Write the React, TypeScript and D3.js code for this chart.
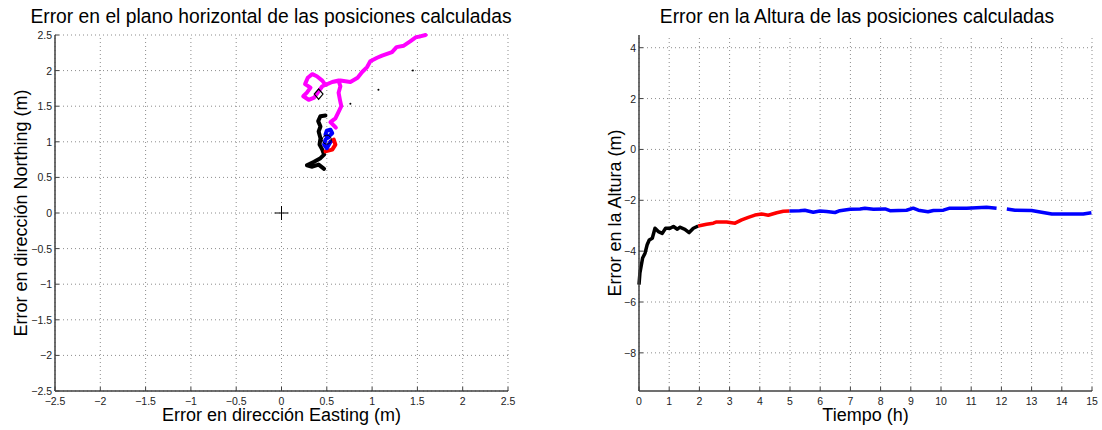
import React from "react";
import * as d3 from "d3";

// Horizontal position error (east, north) in metres, per segment
const blackEast = [0.47, 0.41, 0.34, 0.28, 0.36, 0.43, 0.47, 0.45, 0.42, 0.43, 0.41, 0.43, 0.405, 0.43, 0.485];
const blackNorth = [0.62, 0.68, 0.65, 0.67, 0.72, 0.77, 0.82, 0.89, 0.96, 1.05, 1.145, 1.215, 1.29, 1.36, 1.37];
const redEast = [0.485, 0.56, 0.595, 0.577, 0.54];
const redNorth = [0.865, 0.89, 0.96, 1.03, 1.0];
const blueEast = [0.54, 0.5, 0.47, 0.485, 0.52, 0.56, 0.54, 0.5, 0.485, 0.52];
const blueNorth = [1.0, 0.91, 0.96, 1.03, 1.075, 1.12, 1.17, 1.155, 1.1, 1.06];
const magentaEast = [0.6, 0.54, 0.595, 0.63, 0.66, 0.645, 0.63, 0.65, 0.63, 0.56, 0.485, 0.45, 0.39, 0.34, 0.29, 0.26, 0.32, 0.28, 0.24, 0.3, 0.36, 0.45, 0.56, 0.65, 0.76, 0.84, 0.89, 0.945, 0.98, 1.055, 1.11, 1.22, 1.27, 1.35, 1.42, 1.485, 1.53, 1.59];
const magentaNorth = [1.2, 1.277, 1.33, 1.42, 1.5, 1.59, 1.69, 1.78, 1.86, 1.84, 1.8, 1.86, 1.92, 1.95, 1.9, 1.81, 1.76, 1.69, 1.64, 1.59, 1.62, 1.78, 1.84, 1.86, 1.84, 1.9, 1.98, 2.05, 2.13, 2.18, 2.21, 2.26, 2.33, 2.35, 2.41, 2.47, 2.48, 2.5];
const strayEast = [1.45, 1.07, 0.76];
const strayNorth = [2.0, 1.73, 1.535];
const originMark = [0, 0];
const diamondMark = [0.41, 1.67];
const circleMark = [0.5, 1.03];

// Height error (m) over time (h), per segment
const hBlackT = [0, 0.03, 0.12, 0.2, 0.27, 0.34, 0.44, 0.53, 0.64, 0.77, 0.88, 1.03, 1.14, 1.27, 1.35, 1.52, 1.66, 1.8, 1.96];
const hBlackV = [-5.32, -4.86, -4.27, -4.08, -3.75, -3.56, -3.49, -3.1, -3.23, -3.3, -3.1, -3.1, -3.03, -3.14, -3.06, -3.14, -3.27, -3.1, -3.01];
const hRedT = [1.96, 2.24, 2.46, 2.57, 2.9, 3.18, 3.4, 3.62, 3.84, 4.06, 4.28, 4.56, 4.78, 4.98];
const hRedV = [-3.01, -2.94, -2.9, -2.85, -2.85, -2.9, -2.77, -2.67, -2.58, -2.54, -2.59, -2.49, -2.43, -2.42];
const hBlueT1 = [4.98, 5.32, 5.49, 5.77, 5.99, 6.21, 6.49, 6.65, 6.99, 7.32, 7.48, 7.76, 8.15, 8.31, 8.86, 9.08, 9.25, 9.57, 9.75, 10.08, 10.29, 10.85, 11.51, 11.84];
const hBlueV1 = [-2.42, -2.41, -2.39, -2.47, -2.42, -2.44, -2.48, -2.41, -2.35, -2.34, -2.31, -2.35, -2.34, -2.41, -2.39, -2.31, -2.39, -2.45, -2.4, -2.39, -2.31, -2.31, -2.27, -2.31];
const hBlueT2 = [12.18, 12.45, 13.0, 13.33, 13.67, 14.11, 14.71, 14.98];
const hBlueV2 = [-2.34, -2.39, -2.4, -2.47, -2.54, -2.54, -2.54, -2.49];

const enTicks = [-2.5, -2, -1.5, -1, -0.5, 0, 0.5, 1, 1.5, 2, 2.5];
const timeTicks = d3.range(0, 16);
const heightTicks = [-8, -6, -4, -2, 0, 2, 4];

const FONT = "'Liberation Sans', Arial, Helvetica, sans-serif";
const fmt = d3.format("~g");

const zip = (a: number[], b: number[]) => a.map((v, i) => [v, b[i]] as [number, number]);

type AxesProps = {
  x: d3.ScaleLinear<number, number>;
  y: d3.ScaleLinear<number, number>;
  xTicks: number[];
  yTicks: number[];
  title: string;
  titleX: number;
  xLabel: string;
  yLabel: string;
  yLabelX: number;
  children?: React.ReactNode;
};

function Axes({ x, y, xTicks, yTicks, title, titleX, xLabel, yLabel, yLabelX, children }: AxesProps) {
  const [x0, x1] = x.range();
  const [y0, y1] = y.range();
  const cx = (x0 + x1) / 2;
  const cy = (y0 + y1) / 2;
  return (
    <g>
      <g stroke="#8c8c8c" strokeWidth={1} strokeDasharray="1,3">
        {xTicks.map((t) => (
          <line key={"gx" + t} x1={x(t)} x2={x(t)} y1={y0} y2={y1} />
        ))}
        {yTicks.map((t) => (
          <line key={"gy" + t} x1={x0} x2={x1} y1={y(t)} y2={y(t)} />
        ))}
      </g>
      {children}
      <g stroke="#404040" strokeWidth={1.5}>
        <line x1={x0} x2={x1} y1={y0} y2={y0} />
        <line x1={x0} x2={x0} y1={y0} y2={y1} />
        {xTicks.map((t) => (
          <line key={"tx" + t} x1={x(t)} x2={x(t)} y1={y0} y2={y0 - 4} strokeWidth={1} />
        ))}
        {yTicks.map((t) => (
          <line key={"ty" + t} x1={x0} x2={x0 + 4} y1={y(t)} y2={y(t)} strokeWidth={1} />
        ))}
      </g>
      <g fontFamily={FONT} fontSize={10.5} fill="#222">
        {xTicks.map((t) => (
          <text key={"lx" + t} x={x(t)} y={y0 + 14} textAnchor="middle">
            {fmt(t)}
          </text>
        ))}
        {yTicks.map((t) => (
          <text key={"ly" + t} x={x0 - 3} y={y(t) + 4} textAnchor="end">
            {fmt(t)}
          </text>
        ))}
      </g>
      <g fontFamily={FONT} fill="#000">
        <text x={titleX} y={23} textAnchor="middle" fontSize={19.3}>{title}</text>
        <text x={cx} y={y0 + 30} textAnchor="middle" fontSize={18}>{xLabel}</text>
        <text transform={`translate(${yLabelX},${cy}) rotate(-90)`} textAnchor="middle" fontSize={18}>{yLabel}</text>
      </g>
    </g>
  );
}

export default function App() {
  const xEN = d3.scaleLinear().domain([-2.5, 2.5]).range([55, 508]);
  const yEN = d3.scaleLinear().domain([-2.5, 2.5]).range([391, 35]);
  const xT = d3.scaleLinear().domain([0, 15]).range([639, 1092]);
  const yH = d3.scaleLinear().domain([-9.5, 4.5]).range([391, 35]);

  const lineEN = d3.line<[number, number]>().x((d) => xEN(d[0])).y((d) => yEN(d[1]));
  const lineH = d3.line<[number, number]>().x((d) => xT(d[0])).y((d) => yH(d[1]));

  const sym = (type: d3.SymbolType, size: number) => d3.symbol().type(type).size(size)() as string;
  const ox = xEN(originMark[0]);
  const oy = yEN(originMark[1]);

  return (
    <svg width={1102} height={430} style={{ position: "absolute", left: 0, top: 0, background: "#fff" }}>
      <rect width={1102} height={430} fill="#fff" />
      <Axes
        x={xEN}
        y={yEN}
        xTicks={enTicks}
        yTicks={enTicks}
        title="Error en el plano horizontal de las posiciones calculadas"
        titleX={271}
        xLabel="Error en dirección Easting (m)"
        yLabel="Error en dirección Northing (m)"
        yLabelX={27}
      >
        <g fill="none" strokeWidth={4} strokeLinejoin="round" strokeLinecap="round">
          <path d={lineEN(zip(magentaEast, magentaNorth)) ?? ""} stroke="#ff00ff" />
          <path d={lineEN(zip(blackEast, blackNorth)) ?? ""} stroke="#000" />
          <path d={lineEN(zip(redEast, redNorth)) ?? ""} stroke="#ff0000" />
          <path d={lineEN(zip(blueEast, blueNorth)) ?? ""} stroke="#0000ff" />
        </g>
        {zip(strayEast, strayNorth).map((d, i) => (
          <circle key={i} cx={xEN(d[0])} cy={yEN(d[1])} r={1} fill="#000" />
        ))}
        <g stroke="#000" strokeWidth={1} fill="none">
          <line x1={ox - 7} x2={ox + 7} y1={oy} y2={oy} />
          <line x1={ox} x2={ox} y1={oy - 7} y2={oy + 7} />
          <path d={sym(d3.symbolDiamond2, 40)} transform={`translate(${xEN(diamondMark[0])},${yEN(diamondMark[1])}) scale(1.1,1.3)`} />
          <circle cx={xEN(circleMark[0])} cy={yEN(circleMark[1])} r={4.5} />
        </g>
      </Axes>
      <Axes
        x={xT}
        y={yH}
        xTicks={timeTicks}
        yTicks={heightTicks}
        title="Error en la Altura de las posiciones calculadas"
        titleX={857}
        xLabel="Tiempo (h)"
        yLabel="Error en la Altura (m)"
        yLabelX={621}
      >
        <g fill="none" strokeWidth={3.5} strokeLinejoin="round">
          <path d={lineH(zip(hBlackT, hBlackV)) ?? ""} stroke="#000" />
          <path d={lineH(zip(hRedT, hRedV)) ?? ""} stroke="#ff0000" />
          <path d={lineH(zip(hBlueT1, hBlueV1)) ?? ""} stroke="#0000ff" />
          <path d={lineH(zip(hBlueT2, hBlueV2)) ?? ""} stroke="#0000ff" />
        </g>
      </Axes>
    </svg>
  );
}
